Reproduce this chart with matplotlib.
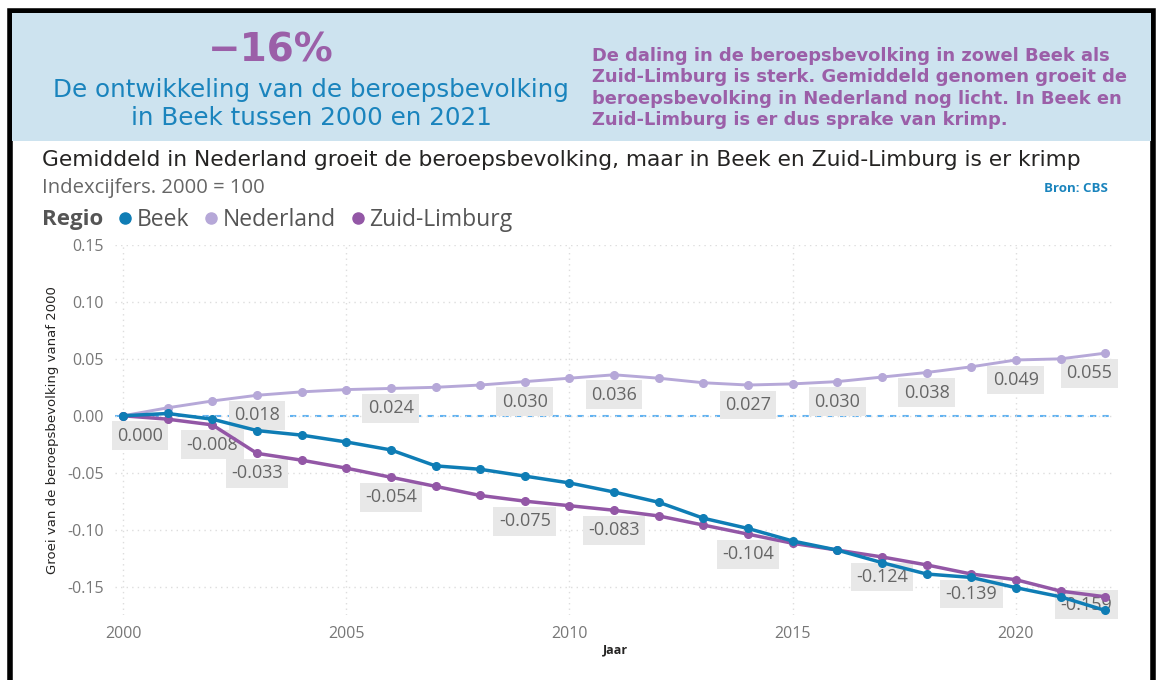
import numpy as np
import matplotlib.pyplot as plt
from matplotlib.patches import Rectangle
from matplotlib.lines import Line2D

years = list(range(2000, 2023))
beek = [0.000, 0.002, -0.003, -0.013, -0.017, -0.023, -0.030, -0.044, -0.047, -0.053,
        -0.059, -0.067, -0.076, -0.090, -0.099, -0.110, -0.118, -0.129, -0.139, -0.142,
        -0.151, -0.159, -0.171]
nederland = [0.000, 0.007, 0.013, 0.018, 0.021, 0.023, 0.024, 0.025, 0.027, 0.030,
             0.033, 0.036, 0.033, 0.029, 0.027, 0.028, 0.030, 0.034, 0.038, 0.043,
             0.049, 0.050, 0.055]
zuid_limburg = [0.000, -0.003, -0.008, -0.033, -0.039, -0.046, -0.054, -0.062, -0.070, -0.075,
                -0.079, -0.083, -0.088, -0.096, -0.104, -0.112, -0.118, -0.124, -0.131, -0.139,
                -0.144, -0.154, -0.159]
# years that carry a data label in the original
nl_label_years = [2000, 2003, 2006, 2009, 2011, 2014, 2016, 2018, 2020, 2022]
zl_label_years = [2002, 2003, 2006, 2009, 2011, 2014, 2017, 2019, 2022]
series_names = ['Beek', 'Nederland', 'Zuid-Limburg']
series_colors = ['#0f7db5', '#b6a8d8', '#9357a6']

plt.rcParams['font.family'] = ['Open Sans', 'DejaVu Sans']

fig = plt.figure(figsize=(11.58, 6.8), dpi=100)
W, H = 1158, 680

def fx(px):
    return px / W

def fy(py):
    return 1 - py / H

# outer frame and header band
fig.patches.append(Rectangle((fx(10), -0.01), fx(1143), fy(11) + 0.01, transform=fig.transFigure,
                             facecolor='white', edgecolor='black', linewidth=4, zorder=0))
fig.patches.append(Rectangle((fx(12), fy(141)), fx(1139), fy(13) - fy(141), transform=fig.transFigure,
                             facecolor='#cde3ef', edgecolor='none', zorder=1))

fig.text(fx(271), fy(50), '\u221216%', color='#9b5fa8', fontsize=28, fontweight='bold',
         family=['DejaVu Sans'], ha='center', va='center')
fig.text(fx(311), fy(104), 'De ontwikkeling van de beroepsbevolking\nin Beek tussen 2000 en 2021',
         color='#1a84bd', fontsize=17.7, ha='center', va='center', linespacing=1.2,
         family=['DejaVu Sans'])
fig.text(fx(592), fy(88), 'De daling in de beroepsbevolking in zowel Beek als\n'
         'Zuid-Limburg is sterk. Gemiddeld genomen groeit de\n'
         'beroepsbevolking in Nederland nog licht. In Beek en\n'
         'Zuid-Limburg is er dus sprake van krimp.',
         color='#9b5fa8', fontsize=12.9, fontweight='bold', ha='left', va='center',
         linespacing=1.25, family=['DejaVu Sans'])

fig.text(fx(42), fy(160), 'Gemiddeld in Nederland groeit de beroepsbevolking, maar in Beek en Zuid-Limburg is er krimp',
         color='#252423', fontsize=15.7, ha='left', va='center', family=['DejaVu Sans'])
fig.text(fx(42), fy(188), 'Indexcijfers. 2000 = 100', color='#666666', fontsize=14.6,
         ha='left', va='center')
fig.text(fx(1108), fy(188), 'Bron: CBS', color='#1a84bd', fontsize=9.5, fontweight='bold',
         ha='right', va='center')

# legend row
fig.text(fx(42), fy(220), 'Regio', color='#555555', fontsize=16, fontweight='bold',
         ha='left', va='center')
handles = [Line2D([], [], linestyle='none', marker='o', markersize=8, color=c) for c in series_colors]
leg = fig.legend(handles, series_names, loc='center left', bbox_to_anchor=(fx(114), fy(220)),
                 ncol=3, frameon=False, fontsize=16.5, handletextpad=0.0, columnspacing=0.45,
                 handlelength=1.0, borderpad=0, borderaxespad=0)
for t in leg.get_texts():
    t.set_color('#555555')

ax = fig.add_axes([fx(115), fy(615), fx(1000), fy(245) - fy(615)])
ax.set_zorder(3)
ax.patch.set_alpha(0)
ax.set_xlim(1999.82, 2022.22)
ax.set_ylim(-0.175, 0.15)
for s in ax.spines.values():
    s.set_visible(False)
ax.set_xticks([2000, 2005, 2010, 2015, 2020])
ax.set_yticks([-0.15, -0.10, -0.05, 0.00, 0.05, 0.10, 0.15])
ax.set_yticklabels(['%.2f' % v for v in ax.get_yticks()])
ax.tick_params(length=0, colors='#777777', labelsize=11.5, pad=8)
ax.grid(True, color='#dddddd', linestyle=(0, (1, 3)), linewidth=1)
ax.axhline(0, color='#5fb2f2', linestyle=(0, (3, 3)), linewidth=1.5, zorder=1)
ax.set_ylabel('Groei van de beroepsbevolking vanaf 2000', fontsize=9.5, color='#252423',
              family=['Liberation Sans Narrow', 'DejaVu Sans'], labelpad=6)
ax.set_xlabel('Jaar', fontsize=9, fontweight='bold', color='#252423', labelpad=1)

for vals, col, lw in zip([nederland, zuid_limburg, beek],
                         [series_colors[1], series_colors[2], series_colors[0]], [2.1, 2.5, 2.5]):
    ax.plot(years, vals, color=col, linewidth=lw, marker='o', markersize=5.5, zorder=4)

box = dict(boxstyle='square,pad=0.3', facecolor='#e8e8e8', edgecolor='none')

def add_labels(vals, label_years):
    for yr in label_years:
        v = vals[years.index(yr)]
        ha, dx, dy = 'center', 0, -20
        if yr == years[0]:
            ha, dx = 'left', -6
        if yr == years[-1]:
            ha, dx = 'right', 7
        if v - 0.02 < ax.get_ylim()[0]:
            dy = -8
        ax.annotate('%.3f' % v, (yr, v), xytext=(dx, dy), textcoords='offset pixels',
                    ha=ha, va='center', fontsize=13, color='#666666', bbox=box, zorder=3)

add_labels(nederland, nl_label_years)
add_labels(zuid_limburg, zl_label_years)

fig.savefig('out.png', dpi=100)
